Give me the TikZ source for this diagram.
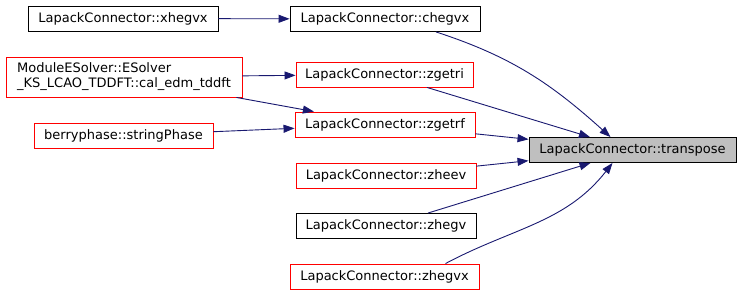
\documentclass[tikz,border=0pt]{standalone}
\usepackage{fontspec}
\setmainfont{DejaVu Sans}
\usepackage{tikz}
\usetikzlibrary{arrows.meta,positioning}
\definecolor{edgeblue}{RGB}{25,25,112}
\definecolor{boxgrey}{RGB}{191,191,191}
\tikzset{
      fnbox/.style    = {draw=black, rectangle, line width=0.9pt, minimum height=25pt,
                         inner sep=0pt, font=\fontsize{13}{15}\selectfont},
      redbox/.style   = {fnbox, draw=red},
      rootbox/.style  = {fnbox, fill=boxgrey},
      calledge/.style = {edgeblue, line width=0.9pt, -{Triangle[length=11pt,width=8pt]}},
    }

\begin{document}
\begin{tikzpicture}[x=1pt,y=-1pt]
          \useasboundingbox (0,0) rectangle (740,296);
          \node[rootbox, minimum width=207pt] (transpose) at (632.5,150) {LapackConnector::transpose};

          \node[fnbox, minimum width=190pt]  (chegvx) at (385,19)    {LapackConnector::chegvx};
          \node[redbox, minimum width=177pt] (zgetri) at (384.5,74.5) {LapackConnector::zgetri};
          \node[redbox, minimum width=180pt] (zgetrf) at (385,124.5) {LapackConnector::zgetrf};
          \node[redbox, minimum width=180pt] (zheev)  at (386,175.5) {LapackConnector::zheev};
          \node[fnbox, minimum width=180pt]  (zhegv)  at (386,226)   {LapackConnector::zhegv};
          \node[redbox, minimum width=189pt] (zhegvx) at (384.5,276.5) {LapackConnector::zhegvx};

          \node[fnbox, minimum width=190pt]  (xhegvx) at (123,18.5)  {LapackConnector::xhegvx};
          \node[redbox, minimum width=236pt, minimum height=40pt, align=left] (caledm) at (124,77)
                {ModuleESolver::ESolver\\\_KS\_LCAO\_TDDFT::cal\_edm\_tddft};
          \node[redbox, minimum width=179pt] (stringphase) at (123.5,135.5) {berryphase::stringPhase};

          \path (xhegvx) edge[calledge] (chegvx);
          \path (caledm) edge[calledge] (zgetri);
          \path (caledm) edge[calledge] (zgetrf);
          \path (stringphase) edge[calledge] (zgetrf);

          \path ([xshift=51pt]chegvx.south) edge[calledge, out=-18, in=138] ([xshift=-22pt]transpose.north);
          \path (zgetri) edge[calledge] (transpose);
          \path (zgetrf) edge[calledge] (transpose);
          \path (zheev) edge[calledge] (transpose);
          \path (zhegv) edge[calledge] (transpose);
          \path ([xshift=61pt]zhegvx.north) edge[calledge, out=28, in=-128] ([xshift=-20pt]transpose.south);
\end{tikzpicture}
\end{document}
